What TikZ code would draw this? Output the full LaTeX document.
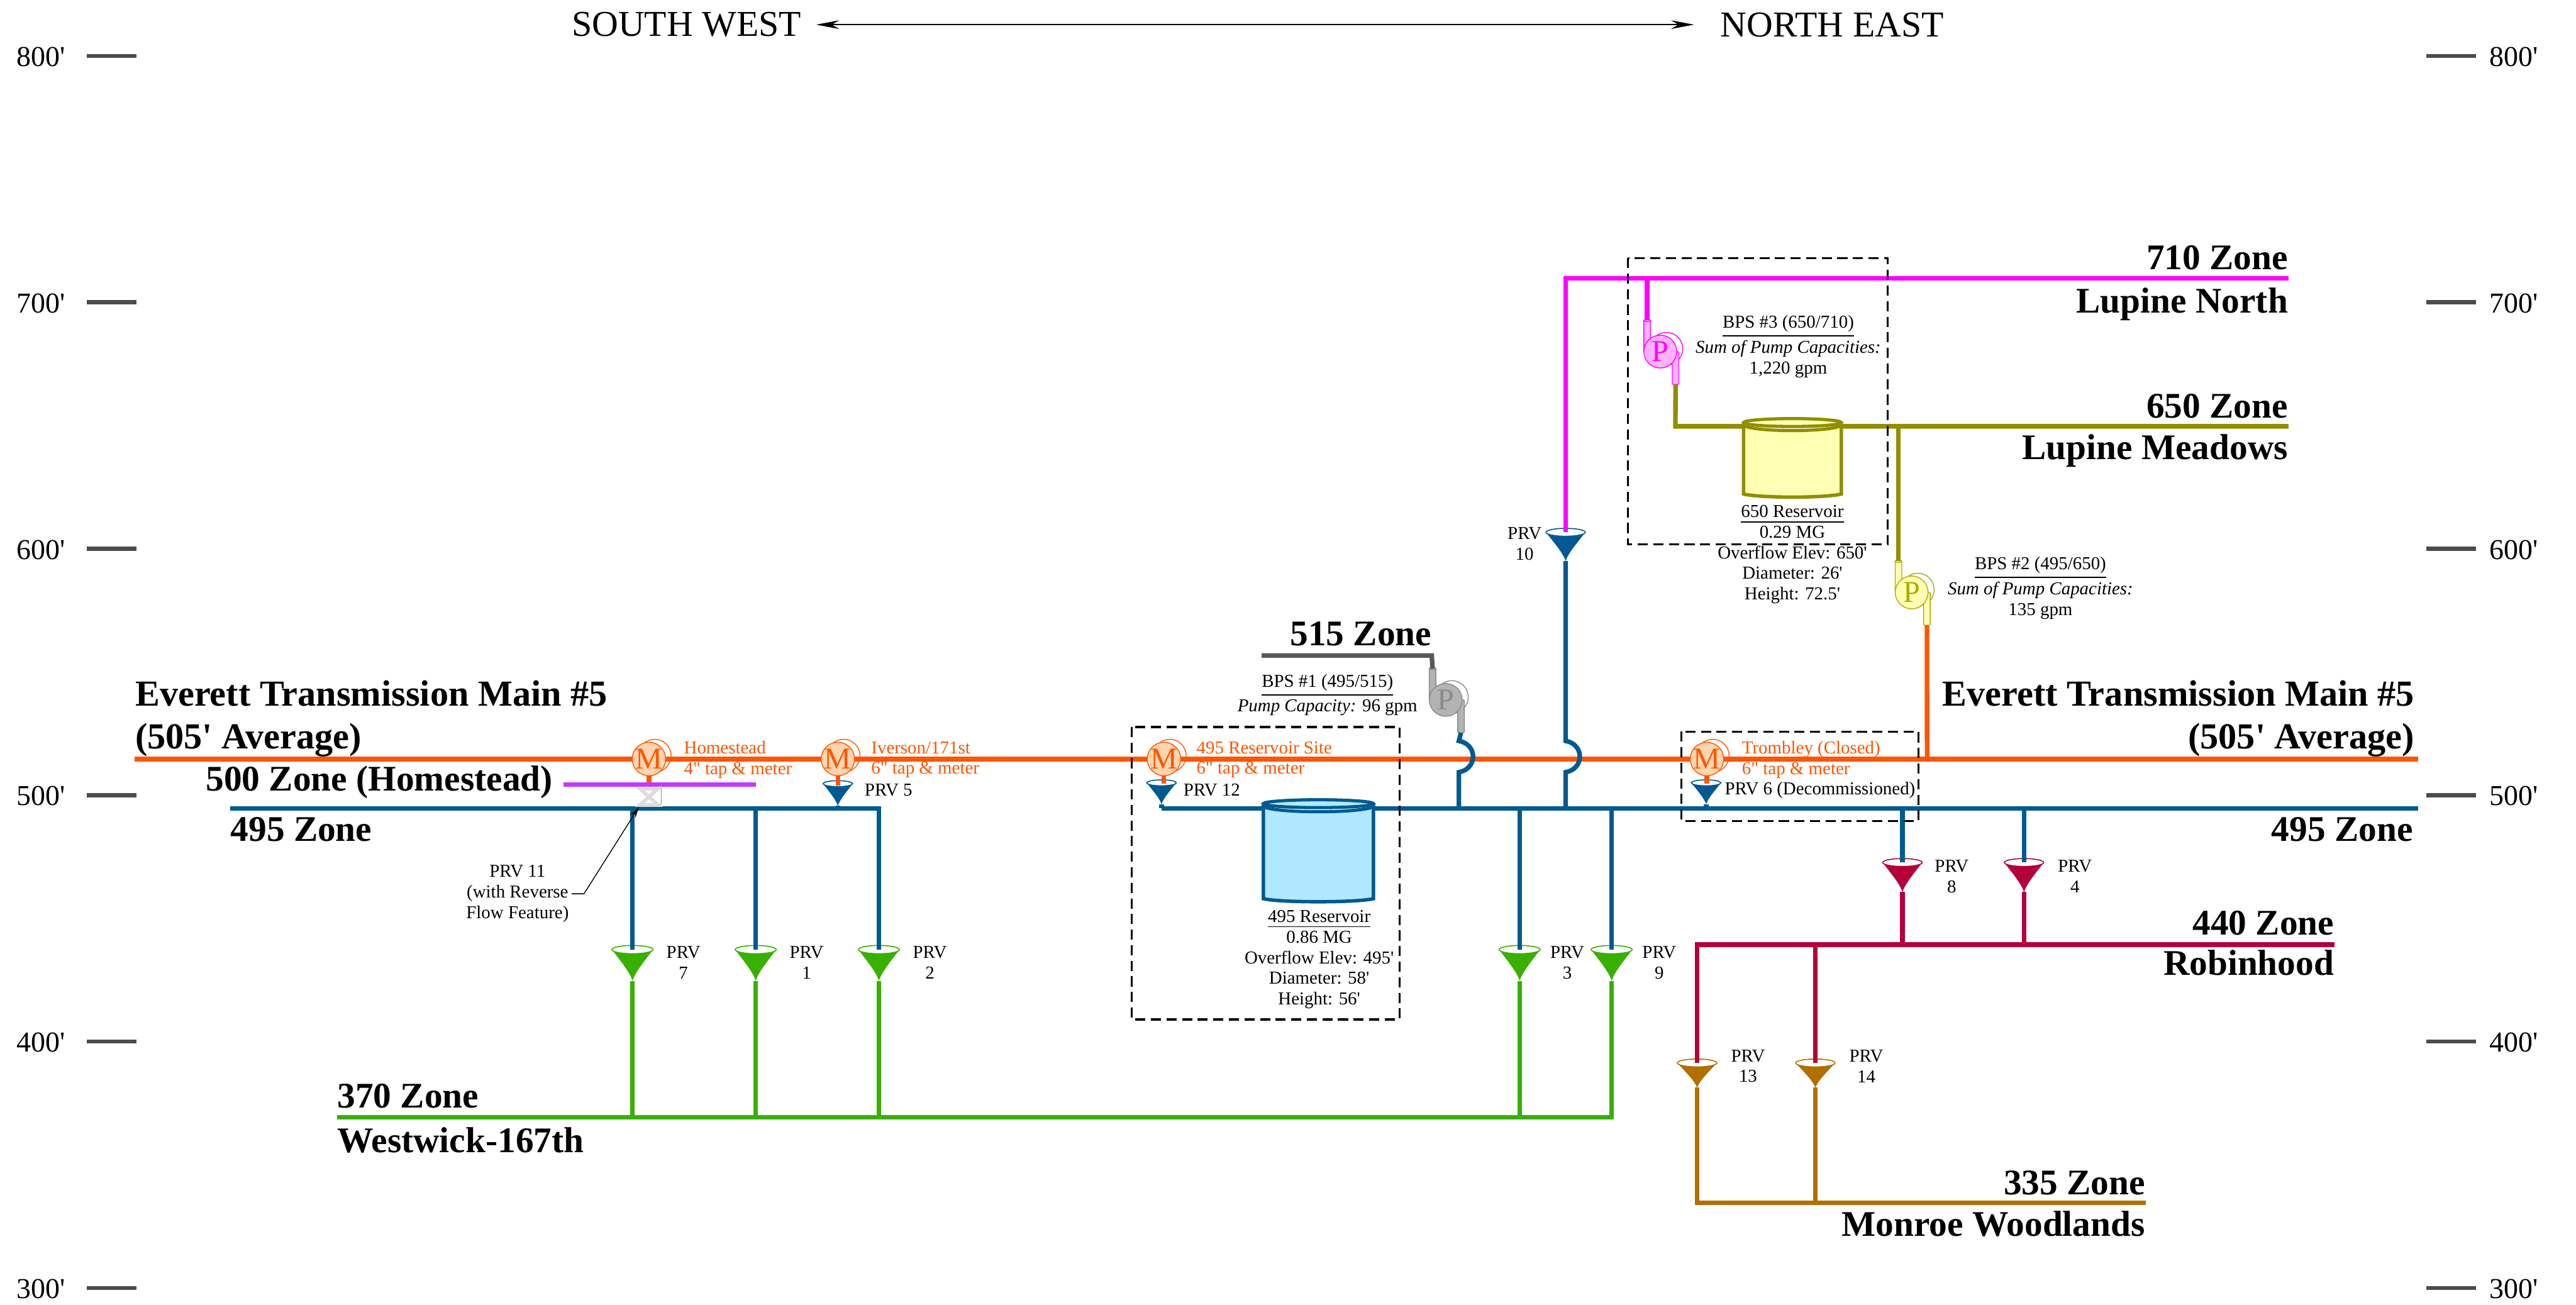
\documentclass[tikz,border=0pt]{standalone}
\usepackage{fontspec}
\newfontfamily\plainserif{Liberation Serif}
\AtBeginDocument{\plainserif}
\usetikzlibrary{arrows.meta}
\definecolor{zoneorange}{HTML}{FF5500}
\definecolor{zoneblue}{HTML}{005A91}
\definecolor{zonegreen}{HTML}{38B000}
\definecolor{zonecrimson}{HTML}{B3003B}
\definecolor{zonebrown}{HTML}{B36E00}
\definecolor{zoneolive}{HTML}{908F00}
\definecolor{zonemagenta}{HTML}{FF00FF}
\definecolor{zonegray}{HTML}{595959}
\definecolor{zonepurple}{HTML}{C437FF}
\definecolor{meterfill}{HTML}{FFD5B0}
\definecolor{tankblue}{HTML}{B0E8FF}
\definecolor{tankyellow}{HTML}{FFFFB3}
\definecolor{pumpmagenta}{HTML}{FFB3FF}
\definecolor{pumpgray}{HTML}{B3B3B3}
\definecolor{valvegray}{HTML}{DDDDDD}
\tikzset{
  pipe/.style={line width=1.6pt, line join=miter},
  sitebox/.style={line width=.7pt, dash pattern=on 3.5pt off 1.9pt},
  tick/.style={line width=1.4pt, color=black!70},
  smalltxt/.style={inner sep=0pt, align=center, font=\fontsize{6.3}{7.1}\selectfont},
  zonetxt/.style={inner sep=0pt, align=left, font=\fontsize{12.5}{14.7}\selectfont\bfseries},
  maintxt/.style={inner sep=0pt, font=\fontsize{12.7}{14.7}\selectfont\bfseries},
  dirtxt/.style={inner sep=0pt, font=\fontsize{12.6}{14.7}\selectfont},
  elevtxt/.style={inner sep=0pt, font=\fontsize{10}{12}\selectfont},
  meter/.style={circle, draw=zoneorange, fill=meterfill, text=zoneorange, line width=.3pt,
    minimum size=.4cm, inner sep=0pt, font=\fontsize{10.5}{10.5}\selectfont},
}
% funnel: name, x, top y, half width, height, colour
\newcommand{\prvmark}[6]{
  \coordinate (#1) at (#2,#3);
  \coordinate (#1b) at (#2,{#3+#5});
  \fill[#6] ({#2-#4},#3) .. controls ({#2-#4*.55},{#3+#5*.4}) and ({#2-#4*.15},{#3+#5*.7}) .. (#1b)
    .. controls ({#2+#4*.15},{#3+#5*.7}) and ({#2+#4*.55},{#3+#5*.4}) .. ({#2+#4},#3) -- cycle;
  \draw[#6, fill=white, line width=.35pt] (#1) ellipse [x radius=#4, y radius={#4*.2}];
}
% meter: name, x, y
\newcommand{\metermark}[3]{
  \draw[zoneorange, line width=.3pt] ({#2+3.5},{#3-2}) circle [radius=10];
  \node[meter] (#1) at (#2,#3) {M};
}
% pump: name, x, y, line colour, fill colour
\newcommand{\pumpmark}[5]{
  \coordinate (#1in) at ({#2-8},{#3-19});
  \coordinate (#1out) at ({#2+9.3},{#3+20});
  \draw[#4, fill=#5, line width=.3pt, rounded corners=.3pt] ({#2-10},{#3-19}) rectangle ({#2-6},#3);
  \draw[#4, fill=#5, line width=.3pt] (#1in) ellipse [x radius=2, y radius=.7];
  \draw[#4, fill=white, line width=.3pt] ({#2+3.7},{#3-1.7}) circle [radius=10];
  \draw[#4, fill=#5, line width=.3pt, rounded corners=.3pt] ({#2+7.3},#3) rectangle ({#2+11.3},{#3+20});
  \node[circle, draw=#4, fill=#5, text=#4, line width=.3pt, minimum size=.4cm, inner sep=0pt,
    font=\fontsize{10.5}{10.5}\selectfont] (#1) at (#2,#3) {P};
}
% tank: x left, x right, rim y, bottom y, line colour, fill colour
\newcommand{\tankmark}[6]{
  \draw[#5, fill=#6, line width=1.2pt] (#1,#3) -- (#1,{#4-2})
    .. controls ({#1+10},{#4+.5}) and ({#2-10},{#4+.5}) .. (#2,{#4-2}) -- (#2,#3);
  \draw[#5, fill=white, line width=1.1pt] ({(#1+#2)/2},#3) ellipse [x radius={(#2-#1)/2}, y radius=3.6];
  \draw[#5, fill=#6, line width=1.1pt] ({(#1+#2)/2},{#3-1.3}) ellipse [x radius={(#2-#1)/2}, y radius=2.4];
}
\begin{document}
\begin{tikzpicture}[x=.02cm, y=-.02cm]
\useasboundingbox (0,0) rectangle (1568,794);

% elevation scale
\foreach \elev/\ypos in {800/34,700/184,600/334,500/484,400/634,300/784}{
  \draw[tick] (53,\ypos) -- (83,\ypos);
  \draw[tick] (1477,\ypos) -- (1507,\ypos);
  \node[elevtxt, anchor=east] (elevL\elev) at (40,\ypos+.6) {\elev'};
  \node[elevtxt, anchor=west] (elevR\elev) at (1515,\ypos+.6) {\elev'};
}

\node[dirtxt, anchor=east] (dirSW) at (488,15) {SOUTH WEST};
\node[dirtxt, anchor=west] (dirNE) at (1047,15) {NORTH EAST};
\draw[{Stealth[length=8pt,width=3pt]}-{Stealth[length=8pt,width=3pt]}, line width=.4pt, shorten <=5pt, shorten >=9pt] (dirSW) -- (dirNE);

% valves
\prvmark{prvVII}{385}{578}{12.5}{19}{zonegreen}
\prvmark{prvI}{460}{578}{12.5}{19}{zonegreen}
\prvmark{prvII}{535}{578}{12.5}{19}{zonegreen}
\prvmark{prvIII}{925}{578}{12.5}{19}{zonegreen}
\prvmark{prvIX}{981}{578}{12.5}{19}{zonegreen}
\prvmark{prvV}{510}{477}{9}{13.5}{zoneblue}
\prvmark{prvXII}{707}{476.5}{9}{13}{zoneblue}
\prvmark{prvVI}{1038.5}{476.5}{9}{13}{zoneblue}
\prvmark{prvX}{953}{324}{12}{17.5}{zoneblue}
\prvmark{prvVIII}{1158}{525}{12}{18}{zonecrimson}
\prvmark{prvIV}{1232}{525}{12}{18}{zonecrimson}
\prvmark{prvXIII}{1033}{647}{12}{15}{zonebrown}
\prvmark{prvXIV}{1105}{647}{12}{15}{zonebrown}

% mains
\coordinate (mainW) at (82,462);
\coordinate (mainE) at (1472,462);
\coordinate (riserE) at (1173,462);
\coordinate (blueW) at (140,492);
\coordinate (blueM) at (535,492);
\coordinate (blueR) at (707,492);
\coordinate (blueE) at (1472,492);
\coordinate (greenW) at (205,680);
\coordinate (greenE) at (981,680);
\coordinate (crimsonW) at (1033,575);
\coordinate (crimsonE) at (1421,575);
\coordinate (brownW) at (1033,732);
\coordinate (brownE) at (1306,732);
\coordinate (magentaW) at (953,169.5);
\coordinate (magentaE) at (1393,169.5);
\coordinate (oliveW) at (1019.8,259.5);
\coordinate (oliveE) at (1393,259.5);
\coordinate (grayW) at (768,399);
\coordinate (grayE) at (871.5,399);
\coordinate (purpleW) at (343,477.5);
\coordinate (purpleE) at (460,477.5);

\pumpmark{pumpC}{1010.6}{214}{zonemagenta}{pumpmagenta}
\pumpmark{pumpB}{1163.6}{360.6}{zoneolive!75!yellow}{tankyellow}
\pumpmark{pumpA}{880}{426}{zonegray!70}{pumpgray}

\draw[pipe, zoneorange] (mainW) -- (mainE);
\draw[pipe, zoneorange] (riserE) -- (pumpBout);
\draw[pipe, zoneblue] (blueW) -- (blueM) -- (prvII);
\draw[pipe, zoneblue] (blueR) -- (blueE);
\draw[pipe, zoneblue] (blueR) -- (prvXIIb);
\draw[pipe, zoneblue] (prvVb) -- (prvVb |- blueW);
\draw[pipe, zoneblue] (prvVIb) -- (prvVIb |- blueW);
\draw[pipe, zoneblue] (prvVII |- blueW) -- (prvVII);
\draw[pipe, zoneblue] (prvI |- blueW) -- (prvI);
\draw[pipe, zoneblue] (prvIII |- blueW) -- (prvIII);
\draw[pipe, zoneblue] (prvIX |- blueW) -- (prvIX);
\draw[pipe, zoneblue] (prvVIII |- blueW) -- (prvVIII);
\draw[pipe, zoneblue] (prvIV |- blueW) -- (prvIV);
\draw[pipe, zonegreen] (greenW) -- (greenE) -- (prvIXb);
\draw[pipe, zonegreen] (prvVIIb) -- (prvVIIb |- greenW);
\draw[pipe, zonegreen] (prvIb) -- (prvIb |- greenW);
\draw[pipe, zonegreen] (prvIIb) -- (prvIIb |- greenW);
\draw[pipe, zonegreen] (prvIIIb) -- (prvIIIb |- greenW);
\draw[pipe, zonecrimson] (crimsonE) -- (crimsonW) -- (prvXIII);
\draw[pipe, zonecrimson] (prvXIV |- crimsonW) -- (prvXIV);
\draw[pipe, zonecrimson] (prvVIIIb) -- (prvVIIIb |- crimsonW);
\draw[pipe, zonecrimson] (prvIVb) -- (prvIVb |- crimsonW);
\draw[pipe, zonebrown] (prvXIIIb) -- (brownW) -- (brownE);
\draw[pipe, zonebrown] (prvXIVb) -- (prvXIVb |- brownW);
\draw[pipe, zonemagenta] (prvX) -- (magentaW) -- (magentaE);
\draw[pipe, zonemagenta] (pumpCin |- magentaW) -- (pumpCin);
\draw[pipe, zoneolive] (pumpCout) -- (oliveW) -- (oliveE);
\draw[pipe, zoneolive] (pumpBin |- oliveW) -- (pumpBin);
\draw[pipe, zonegray] (grayW) -- (grayE) -- (pumpAin);

% crossings of the main
\draw[pipe, zoneblue, fill=none] (prvXb) -- (953,451) .. controls (964.5,453) and (964.5,468) .. (953,470) -- (953,492);
\draw[pipe, zoneblue, fill=none] (pumpAout) -- (888,451) .. controls (899.5,453) and (899.5,468) .. (888,470) -- (888,492);

% tanks
\tankmark{769}{836}{490.5}{549}{zoneblue}{tankblue}
\tankmark{1061.3}{1120.8}{258.5}{302.7}{zoneolive}{tankyellow}

% meters
\metermark{mtrHome}{395}{462}
\metermark{mtrIver}{510}{462}
\metermark{mtrSite}{708.5}{462}
\metermark{mtrTrom}{1039}{462}
\draw[pipe, zoneorange] (mtrHome) ++(0,10) -- (395,477);
\draw[pipe, zoneorange] (mtrIver) ++(0,10) -- (510,478);
\draw[pipe, zoneorange] (mtrSite) ++(0,10) -- (708.5,477);
\draw[pipe, zoneorange] (mtrTrom) ++(0,10) -- (1039,477);
\draw[pipe, zonepurple] (purpleW) -- (purpleE);

% PRV 11
\draw[black!40, line width=.2pt] (401,479) -- (402.5,478) -- (402.5,489) -- (401,491);
\draw[valvegray, line width=1.3pt, line join=miter] (389.5,480) -- (400.5,480) -- (389.5,490) -- (400.5,490) -- cycle;
\coordinate (prvXIend) at (389,491);
\node[smalltxt] (prvXIlabel) at (315,544) {PRV 11\\(with Reverse\\Flow Feature)};
\draw[line width=.3pt, -{Stealth[length=4pt,width=2pt]}] (prvXIlabel.east) ++(1.5,0) -- (355.5,544) -- (prvXIend);

% site boxes
\draw[sitebox] (688.8,442.5) rectangle (851.8,620.5);
\draw[sitebox] (991,157) rectangle (1149,331.4);
\draw[sitebox] (1023.4,445.3) rectangle (1167.7,499.8);

% labels
\node[smalltxt, anchor=west, align=left, text=zoneorange] (tapHome) at (416,462.5) {Homestead\\4" tap \& meter};
\node[smalltxt, anchor=west, align=left, text=zoneorange] (tapIver) at (530,462.5) {Iverson/171st\\6" tap \& meter};
\node[smalltxt, anchor=west, align=left, text=zoneorange] (tapSite) at (728,462.5) {495 Reservoir Site\\6" tap \& meter};
\node[smalltxt, anchor=west, align=left, text=zoneorange] (tapTrom) at (1060,462.5) {Trombley (Closed)\\6" tap \& meter};
\node[smalltxt, anchor=west] (lblV) at (526,481) {PRV 5};
\node[smalltxt, anchor=west] (lblXII) at (720,481) {PRV 12};
\node[smalltxt, anchor=west] (lblVI) at (1049.5,481) {PRV 6 (Decommissioned)};
\node[smalltxt] (lblVII) at (416,586) {PRV\\7};
\node[smalltxt] (lblI) at (491,586) {PRV\\1};
\node[smalltxt] (lblII) at (566,586) {PRV\\2};
\node[smalltxt] (lblIII) at (954,586) {PRV\\3};
\node[smalltxt] (lblIX) at (1010,586) {PRV\\9};
\node[smalltxt] (lblVIII) at (1188,533.5) {PRV\\8};
\node[smalltxt] (lblIV) at (1263,533.5) {PRV\\4};
\node[smalltxt] (lblX) at (928,331) {PRV\\10};
\node[smalltxt] (lblXIII) at (1064,649) {PRV\\13};
\node[smalltxt] (lblXIV) at (1136,649) {PRV\\14};
\node[smalltxt] (bpsA) at (808,423) {\underline{BPS \#1 (495/515)}\\\textit{Pump Capacity:} 96 gpm};
\node[smalltxt] (bpsB) at (1242,358) {\underline{BPS \#2 (495/650)}\\\textit{Sum of Pump Capacities:}\\135 gpm};
\node[smalltxt] (bpsC) at (1088.5,211) {\underline{BPS \#3 (650/710)}\\\textit{Sum of Pump Capacities:}\\1,220 gpm};
\node[smalltxt] (tankA) at (803,584) {\underline{495 Reservoir}\\0.86 MG\\Overflow Elev: 495'\\Diameter: 58'\\Height: 56'};
\node[smalltxt] (tankB) at (1091,337.5) {\underline{650 Reservoir}\\0.29 MG\\Overflow Elev: 650'\\Diameter: 26'\\Height: 72.5'};

\node[zonetxt, anchor=east] (zoneDCCX) at (1393,157) {710 Zone};
\node[zonetxt, anchor=east] (nameNorth) at (1393,185) {Lupine North};
\node[zonetxt, anchor=east] (zoneDCL) at (1393,247) {650 Zone};
\node[zonetxt, anchor=east] (nameMeadows) at (1393,274.5) {Lupine Meadows};
\node[zonetxt, anchor=west] (zoneDXV) at (785,386) {515 Zone};
\node[maintxt, anchor=west, align=left] (etmW) at (82,437.5) {Everett Transmission Main \#5\\(505' Average)};
\node[maintxt, anchor=east, align=right] (etmE) at (1470,437.5) {Everett Transmission Main \#5\\(505' Average)};
\node[zonetxt, anchor=west] (zoneD) at (125,476) {500 Zone (Homestead)};
\node[zonetxt, anchor=west] (zoneCDXCVw) at (140,505) {495 Zone};
\node[zonetxt, anchor=east] (zoneCDXCVe) at (1469,505) {495 Zone};
\node[zonetxt, anchor=east] (zoneCDXL) at (1421,562) {440 Zone};
\node[zonetxt, anchor=east] (nameRobin) at (1421,586) {Robinhood};
\node[zonetxt, anchor=west] (zoneCCCLXX) at (205,667) {370 Zone};
\node[zonetxt, anchor=west] (nameWest) at (205,694) {Westwick-167th};
\node[zonetxt, anchor=east] (zoneCCCXXXV) at (1306,720) {335 Zone};
\node[zonetxt, anchor=east] (nameMonroe) at (1306,745) {Monroe Woodlands};
\end{tikzpicture}
\end{document}
